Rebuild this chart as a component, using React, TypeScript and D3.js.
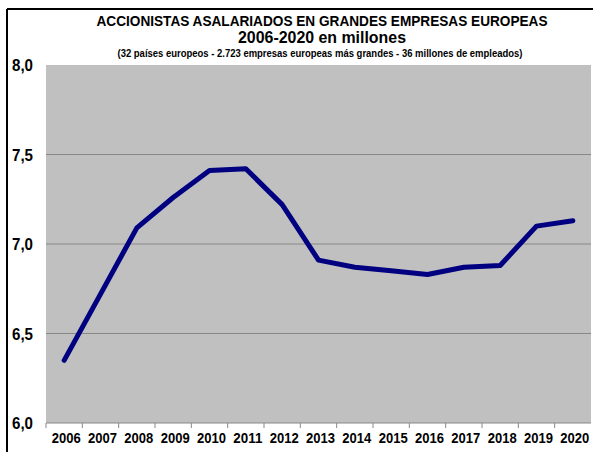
import React from "react";
import { scaleBand, scaleLinear, line, curveLinear } from "d3";

const years = [
  "2006", "2007", "2008", "2009", "2010", "2011", "2012", "2013",
  "2014", "2015", "2016", "2017", "2018", "2019", "2020",
];
const shareholders = [
  6.35, 6.72, 7.09, 7.26, 7.41, 7.42, 7.22, 6.91,
  6.87, 6.85, 6.83, 6.87, 6.88, 7.1, 7.13,
];
const yTicks = [6.0, 6.5, 7.0, 7.5, 8.0];

const titleLines = [
  "ACCIONISTAS ASALARIADOS EN GRANDES EMPRESAS EUROPEAS",
  "2006-2020 en millones",
  "(32 países europeos - 2.723 empresas europeas más grandes - 36 millones de empleados)",
];

export default function App() {
  const W = 593;
  const H = 452;
  const plot = { left: 46, right: 591, top: 65, bottom: 423 };

  const x = scaleBand<string>()
    .domain(years)
    .range([plot.left, plot.right])
    .padding(0);
  const y = scaleLinear().domain([6, 8]).range([plot.bottom, plot.top]);

  const path = line<number>()
    .x((_, i) => x(years[i])! + x.bandwidth() / 2)
    .y((d) => y(d))
    .curve(curveLinear)(shareholders);

  const font = "'Liberation Sans', Arial, sans-serif";

  return (
    <svg
      width={W}
      height={H}
      style={{ position: "absolute", left: 0, top: 0, background: "#fff" }}
      fontFamily={font}
    >
      {/* frame */}
      <line x1={7} y1={9} x2={W} y2={9} stroke="#000" strokeWidth={2} />
      <line x1={7} y1={9} x2={7} y2={H} stroke="#000" strokeWidth={2} />

      {/* titles */}
      <text x={322} y={26} textAnchor="middle" fontWeight="bold" fontSize={15}
        textLength={451} lengthAdjust="spacingAndGlyphs">
        {titleLines[0]}
      </text>
      <text x={322} y={43} textAnchor="middle" fontWeight="bold" fontSize={16}
        textLength={168} lengthAdjust="spacingAndGlyphs">
        {titleLines[1]}
      </text>
      <text x={320} y={57} textAnchor="middle" fontWeight="bold" fontSize={10.5}
        textLength={405} lengthAdjust="spacingAndGlyphs">
        {titleLines[2]}
      </text>

      {/* plot area */}
      <rect
        x={plot.left}
        y={plot.top}
        width={plot.right - plot.left}
        height={plot.bottom - plot.top}
        fill="#c0c0c0"
      />
      {yTicks.slice(1, -1).map((t) => (
        <line key={t} x1={plot.left} x2={plot.right} y1={y(t)} y2={y(t)}
          stroke="#888" strokeWidth={1} />
      ))}

      {/* x axis */}
      <line x1={plot.left} x2={plot.right} y1={plot.bottom} y2={plot.bottom}
        stroke="#888" strokeWidth={1} />
      {years.map((yr) => (
        <line key={"t" + yr} x1={x(yr)!} x2={x(yr)!} y1={plot.bottom}
          y2={plot.bottom + 5} stroke="#888" />
      ))}
      {years.map((yr) => (
        <text key={yr} x={x(yr)! + x.bandwidth() / 2 + 2} y={443}
          textAnchor="middle" fontWeight="bold" fontSize={14.5}
          textLength={29} lengthAdjust="spacingAndGlyphs">
          {yr}
        </text>
      ))}

      {/* y axis labels */}
      {yTicks.map((t) => (
        <text key={t} x={33} y={y(t) + 6} textAnchor="end" fontWeight="bold"
          fontSize={17} textLength={21} lengthAdjust="spacingAndGlyphs">
          {t.toFixed(1).replace(".", ",")}
        </text>
      ))}

      {/* series */}
      <path d={path ?? ""} fill="none" stroke="#000080" strokeWidth={5}
        strokeLinejoin="round" strokeLinecap="round" />
    </svg>
  );
}
